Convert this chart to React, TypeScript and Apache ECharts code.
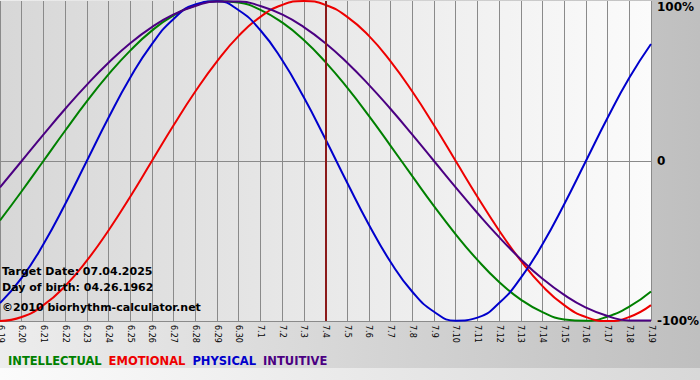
import React, { useEffect, useRef } from "react";
import * as echarts from "echarts";

const dates = [
  "6.19", "6.20", "6.21", "6.22", "6.23", "6.24", "6.25", "6.26", "6.27", "6.28", "6.29", "6.30",
  "7.1", "7.2", "7.3", "7.4", "7.5", "7.6", "7.7", "7.8", "7.9", "7.10", "7.11", "7.12",
  "7.13", "7.14", "7.15", "7.16", "7.17", "7.18", "7.19",
];

const intellectual = [
  -37.2, -18.9, 0, 18.9, 37.2, 54.1, 69.0, 81.5, 91.0, 97.2, 99.9, 99.0, 94.5, 86.6, 75.6, 61.8,
  45.8, 28.2, 9.5, -9.5, -28.2, -45.8, -61.8, -75.6, -86.6, -94.5, -99.0, -99.9, -97.2, -91.0, -81.5,
];
const emotional = [
  -100, -97.5, -90.1, -78.2, -62.3, -43.4, -22.3, 0, 22.3, 43.4, 62.3, 78.2, 90.1, 97.5, 100, 97.5,
  90.1, 78.2, 62.3, 43.4, 22.3, 0, -22.3, -43.4, -62.3, -78.2, -90.1, -97.5, -100, -97.5, -90.1,
];
const physical = [
  -88.8, -73.1, -52.0, -27.0, 0, 27.0, 52.0, 73.1, 88.8, 97.9, 99.8, 94.2, 81.7, 63.1, 39.8, 13.6,
  -13.6, -39.8, -63.1, -81.7, -94.2, -99.8, -97.9, -88.8, -73.1, -52.0, -27.0, 0, 27.0, 52.0, 73.1,
];
const intuitive = [
  -16.5, 0, 16.5, 32.5, 47.6, 61.4, 73.6, 83.7, 91.6, 96.9, 99.7, 99.7, 96.9, 91.6, 83.7, 73.6,
  61.4, 47.6, 32.5, 16.5, 0, -16.5, -32.5, -47.6, -61.4, -73.6, -83.7, -91.6, -96.9, -99.7, -99.7,
];

const seriesNames = ["INTELLECTUAL", "EMOTIONAL", "PHYSICAL", "INTUITIVE"];
const seriesColors = ["#008000", "#ee0000", "#0000cc", "#4b0082"];
const seriesData = [intellectual, emotional, physical, intuitive];

const yTickLabels: Record<string, string> = { "100": "100%", "0": "0", "-100": "-100%" };
const targetDate = "7.4";
const infoLines = ["Target Date: 07.04.2025", "Day of birth: 04.26.1962", "©2010 biorhythm-calculator.net"];

export default function App() {
  const ref = useRef<HTMLDivElement>(null);
  useEffect(() => {
    document.body.style.margin = "0";
    if (!ref.current) return;
    const chart = echarts.init(ref.current, null, { renderer: "svg" });
    const font = "DejaVu Sans";
    chart.setOption({
      animation: false,
      backgroundColor: new echarts.graphic.LinearGradient(0, 0, 1, 0, [
        { offset: 0, color: "#ededed" },
        { offset: 1, color: "#bfbfbf" },
      ]),
      grid: {
        left: 0,
        top: 1,
        width: 651,
        height: 320,
        outerBoundsMode: "none",
        containLabel: false,
        show: true,
        borderWidth: 0,
        backgroundColor: new echarts.graphic.LinearGradient(0, 0, 1, 0, [
          { offset: 0, color: "#d7d7d7" },
          { offset: 1, color: "#fbfbfb" },
        ]),
      },
      legend: {
        left: 3,
        top: 355,
        padding: 0,
        icon: "none",
        itemWidth: 0,
        itemHeight: 0,
        itemGap: 2,
        selectedMode: false,
        textStyle: { fontFamily: font, fontWeight: "bold", fontSize: 11.5 },
        data: seriesNames.map((n, i) => ({ name: n, textStyle: { color: seriesColors[i] } })),
      },
      xAxis: {
        type: "category",
        data: dates,
        boundaryGap: false,
        axisLine: { show: true, lineStyle: { color: "#8a8a8a" } },
        axisTick: { show: false },
        axisLabel: {
          interval: 0,
          rotate: -90,
          margin: 4,
          color: "#000",
          fontFamily: font,
          fontSize: 8,
        },
        splitLine: { show: true, interval: 0, lineStyle: { color: "#8a8a8a", width: 1 } },
      },
      yAxis: {
        type: "value",
        position: "right",
        min: -100,
        max: 100,
        interval: 100,
        axisLine: { show: false },
        axisTick: { show: false },
        splitLine: { show: true, showMaxLine: false, lineStyle: { color: "#8a8a8a", width: 1 } },
        axisLabel: {
          margin: 6,
          color: "#000",
          fontFamily: font,
          fontWeight: "bold",
          fontSize: 12,
          formatter: (v: number) => {
            const t = yTickLabels[String(v)] ?? "";
            return v === 100 ? "{top|" + t + "}" : t;
          },
          rich: {
            top: { fontFamily: font, fontWeight: "bold", fontSize: 12, color: "#000", padding: [11, 0, 0, 0] },
          },
        },
      },
      series: seriesNames.map((n, i) => ({
        name: n,
        type: "line",
        data: seriesData[i],
        smooth: true,
        showSymbol: false,
        symbol: "none",
        lineStyle: { color: seriesColors[i], width: 2 },
        itemStyle: { color: seriesColors[i] },
        markLine:
          i === 0
            ? {
                silent: true,
                symbol: "none",
                label: { show: false },
                data: [{ xAxis: targetDate, lineStyle: { color: "#8b1a1a", width: 2, type: "solid" } }],
              }
            : undefined,
      })),
      graphic: [
        {
          type: "rect",
          left: 0,
          top: 368,
          z: -10,
          silent: true,
          shape: { width: 700, height: 12 },
          style: {
            fill: new echarts.graphic.LinearGradient(0, 0, 1, 0, [
              { offset: 0, color: "#fbfbfb" },
              { offset: 1, color: "#d8d8d8" },
            ]),
          },
        },
        ...infoLines.map((t, i) => ({
          type: "text",
          x: 2,
          y: [271, 287, 307][i],
          z: 100,
          style: {
            text: t,
            fill: "#000",
            font: "bold 11px 'DejaVu Sans'",
            verticalAlign: "middle",
          },
        })),
      ],
    });
    return () => chart.dispose();
  }, []);
  return <div ref={ref} style={{ width: 700, height: 380 }} />;
}
